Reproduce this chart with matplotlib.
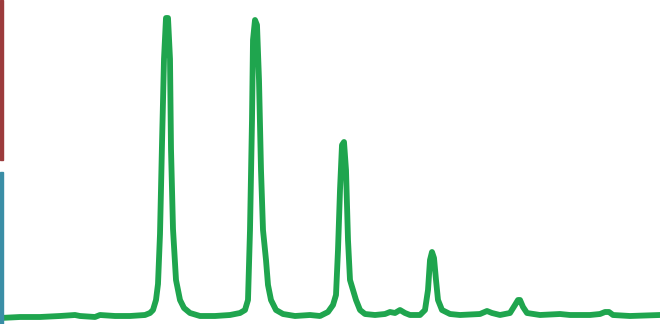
import matplotlib
matplotlib.use("Agg")
import matplotlib.pyplot as plt
from matplotlib.patches import Rectangle

# Chromatogram trace (time, signal)
time = [0, 20, 40, 60, 75, 80, 95, 100, 115, 130, 145, 150, 153, 156,
        158, 160, 162, 164, 166, 168, 170, 171, 173, 176, 180, 184, 190, 200,
        215, 230, 240, 245, 248, 250, 252, 253, 255, 257, 259, 261, 263, 266,
        268, 271, 276, 283, 295, 310, 320, 328, 333, 336, 338, 340, 342, 344,
        346, 348, 350, 353, 356, 360, 365, 375, 385, 390, 395, 400, 405, 410,
        420, 425, 428, 430, 432, 434, 436, 438, 442, 450, 460, 480, 487, 492,
        500, 510, 515, 518, 520, 523, 527, 540, 560, 570, 590, 600, 605, 609,
        613, 630, 660]
signal = [6, 7, 7, 8, 9, 8, 7, 9, 8, 8, 9, 11, 14, 24,
          40, 90, 180, 265, 306, 306, 265, 175, 95, 44, 24, 16, 11, 8,
          8, 9, 11, 14, 24, 94, 204, 284, 304, 299, 244, 154, 94, 64,
          39, 24, 14, 10, 8, 9, 8, 12, 19, 29, 74, 134, 179, 182,
          154, 84, 44, 34, 24, 14, 10, 9, 10, 12, 11, 14, 11, 9,
          9, 14, 34, 64, 72, 66, 44, 24, 14, 10, 9, 10, 13, 11,
          9, 11, 19, 24, 24, 17, 11, 9, 10, 9, 9, 10, 12, 12,
          9, 8, 9]

fig = plt.figure(figsize=(6.6, 3.24), dpi=100)
ax = fig.add_axes([0, 0, 1, 1])
ax.plot(time, signal, color="#1fa54e", lw=4.2, solid_joinstyle="round",
        solid_capstyle="round")
ax.set_xlim(0, 660)
ax.set_ylim(0, 324)
ax.axis("off")

# decorative colored bars at the left edge
fig.patches.append(Rectangle((0, 1 - 160 / 324), 3 / 660, 160 / 324,
                             transform=fig.transFigure, color="#9c3b3c"))
fig.patches.append(Rectangle((0, 0), 3 / 660, 152 / 324,
                             transform=fig.transFigure, color="#3a8ea6"))

fig.savefig("out.png", dpi=100, facecolor="white")
